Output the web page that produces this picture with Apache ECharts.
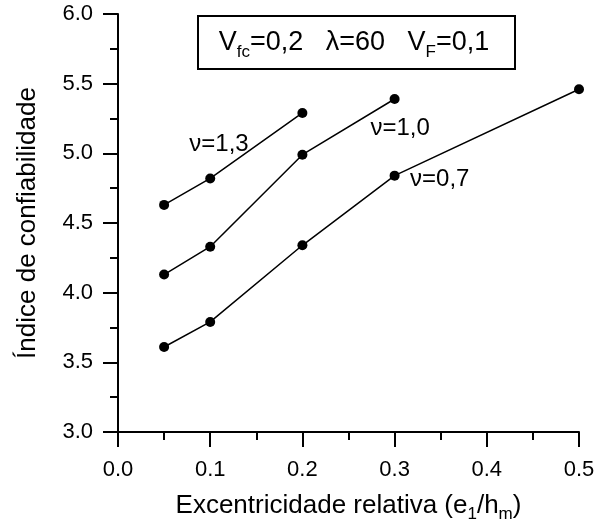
<!DOCTYPE html>
<html>
<head>
<meta charset="utf-8">
<script src="https://cdn.jsdelivr.net/npm/echarts@6/dist/echarts.min.js"></script>
<style>
  html, body { margin: 0; padding: 0; background: #fff; }
  #chart { width: 605px; height: 528px; }
</style>
</head>
<body>
<div id="chart"></div>
<script>
// dados
var xNu13 = [0.05, 0.1, 0.2];
var yNu13 = [4.63, 4.82, 5.29];
var xNu10 = [0.05, 0.1, 0.2, 0.3];
var yNu10 = [4.13, 4.33, 4.99, 5.39];
var xNu07 = [0.05, 0.1, 0.2, 0.3, 0.5];
var yNu07 = [3.61, 3.79, 4.34, 4.84, 5.46];
var xTicks = [0.0, 0.1, 0.2, 0.3, 0.4, 0.5];
var yTicks = [3.0, 3.5, 4.0, 4.5, 5.0, 5.5, 6.0];

function pares(xs, ys) {
    return xs.map(function (x, i) { return [x, ys[i]]; });
}

var fonte = 'Liberation Sans, Arial, sans-serif';

function serie(nome, dados, rotulo) {
    return {
        name: nome,
        type: 'line',
        data: dados,
        symbol: 'circle',
        symbolSize: 10,
        itemStyle: { color: '#000' },
        lineStyle: { color: '#000', width: 1.5 },
        markPoint: {
            symbolSize: 0,
            data: [{
                coord: rotulo,
                label: {
                    show: true,
                    formatter: nome,
                    color: '#000',
                    fontSize: 24,
                    fontFamily: fonte
                }
            }]
        },
        animation: false
    };
}

var myChart = echarts.init(document.getElementById('chart'));

var option = {
    backgroundColor: '#fff',
    grid: { left: 118, right: 26, top: 14, bottom: 93 },
    xAxis: {
        type: 'value',
        min: xTicks[0],
        max: xTicks[xTicks.length - 1],
        interval: 0.1,
        name: 'Excentricidade relativa (e{s|1}/h{s|m})',
        nameLocation: 'middle',
        nameGap: 56,
        nameTextStyle: {
            color: '#000', fontSize: 26, fontFamily: fonte,
            rich: { s: { fontSize: 17, color: '#000', fontFamily: fonte, padding: [18, 0, 0, 0] } }
        },
        axisLine: { lineStyle: { color: '#000', width: 2 } },
        axisTick: { length: 15, lineStyle: { color: '#000', width: 2 } },
        minorTick: { show: true, splitNumber: 2, length: 8, lineStyle: { color: '#000', width: 2 } },
        splitLine: { show: false },
        axisLabel: {
            margin: 27, color: '#000', fontSize: 22, fontFamily: fonte,
            formatter: function (v) { return v.toFixed(1); }
        }
    },
    yAxis: {
        type: 'value',
        min: yTicks[0],
        max: yTicks[yTicks.length - 1],
        interval: 0.5,
        name: 'Índice de confiabilidade',
        nameLocation: 'middle',
        nameRotate: 90,
        nameGap: 77,
        nameTextStyle: { color: '#000', fontSize: 26, fontFamily: fonte },
        axisLine: { show: true, lineStyle: { color: '#000', width: 2 } },
        axisTick: { show: true, length: 15, lineStyle: { color: '#000', width: 2 } },
        minorTick: { show: true, splitNumber: 2, length: 8, lineStyle: { color: '#000', width: 2 } },
        splitLine: { show: false },
        axisLabel: {
            margin: 25, color: '#000', fontSize: 22, fontFamily: fonte,
            formatter: function (v) { return v.toFixed(1); }
        }
    },
    graphic: [{
        type: 'group',
        left: 197,
        top: 15,
        children: [{
            type: 'rect',
            shape: { x: 0, y: 0, width: 317, height: 53 },
            style: { fill: '#fff', stroke: '#000', lineWidth: 2 }
        }, {
            type: 'text',
            x: 156,
            y: 27,
            style: {
                text: 'V{s|fc}=0,2   λ=60   V{s|F}=0,1',
                align: 'center',
                verticalAlign: 'middle',
                fill: '#000',
                fontSize: 27,
                fontFamily: fonte,
                rich: { s: { fontSize: 17, fill: '#000', fontFamily: fonte, padding: [18, 0, 0, 0] } }
            }
        }]
    }],
    series: [
        serie('ν=1,3', pares(xNu13, yNu13), [0.1095, 5.066]),
        serie('ν=1,0', pares(xNu10, yNu10), [0.306, 5.18]),
        serie('ν=0,7', pares(xNu07, yNu07), [0.349, 4.81])
    ]
};
myChart.setOption(option);
window.addEventListener('resize', function () {
    myChart.resize();
});
</script>
</body>
</html>
